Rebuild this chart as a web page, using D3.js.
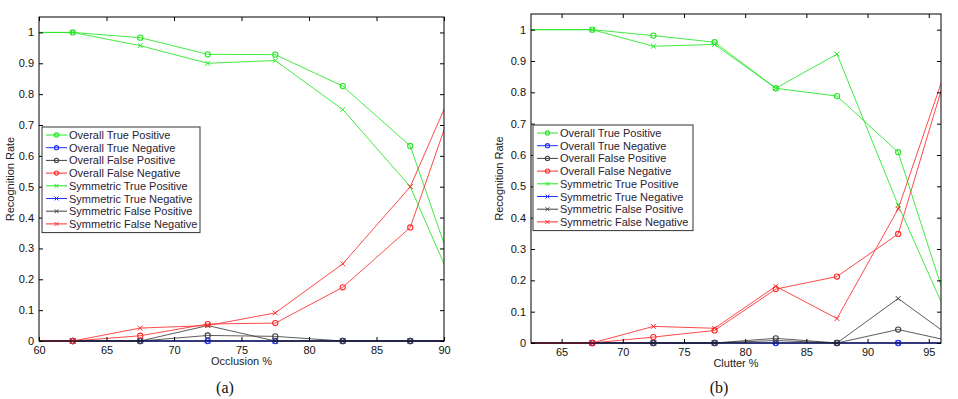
<!DOCTYPE html>
<html>
<head>
<meta charset="utf-8">
<script src="https://cdn.jsdelivr.net/npm/d3@7"></script>
<style>
  body { margin: 0; background: #fff; }
  svg { display: block; font-family: "Liberation Sans", Arial, sans-serif; }
</style>
</head>
<body>
<svg id="chart" width="958" height="399"></svg>
<script>
var seriesNames = ["Overall True Positive", "Overall True Negative", "Overall False Positive", "Overall False Negative",
                   "Symmetric True Positive", "Symmetric True Negative", "Symmetric False Positive", "Symmetric False Negative"];

// (a) occlusion
var occlusionX = [57.5, 62.5, 67.5, 72.5, 77.5, 82.5, 87.5, 92.5];
var occOverallTP = [1, 1, 0.983, 0.929, 0.928, 0.826, 0.632, 0];
var occOverallTN = [0, 0, 0, 0, 0, 0, 0, 0];
var occOverallFP = [0, 0, 0, 0.018, 0.015, 0, 0, 0];
var occOverallFN = [0, 0, 0.017, 0.055, 0.058, 0.174, 0.368, 1];
var occSymTP = [1, 1, 0.957, 0.9, 0.909, 0.75, 0.5, 0];
var occSymTN = [0, 0, 0, 0, 0, 0, 0, 0];
var occSymFP = [0, 0, 0, 0.05, 0, 0, 0, 0];
var occSymFN = [0, 0, 0.042, 0.05, 0.091, 0.25, 0.5, 1];

// (b) clutter
var clutterX = [62.5, 67.5, 72.5, 77.5, 82.5, 87.5, 92.5, 97.5];
var clutOverallTP = [1, 1, 0.981, 0.96, 0.813, 0.788, 0.609, 0];
var clutOverallTN = [0, 0, 0, 0, 0, 0, 0, 0];
var clutOverallFP = [0, 0, 0, 0, 0.015, 0, 0.043, 0];
var clutOverallFN = [0, 0, 0.019, 0.04, 0.172, 0.212, 0.348, 1];
var clutSymTP = [1, 1, 0.947, 0.953, 0.813, 0.922, 0.44, 0];
var clutSymTN = [0, 0, 0, 0, 0, 0, 0, 0];
var clutSymFP = [0, 0, 0, 0, 0.008, 0, 0.142, 0];
var clutSymFN = [0, 0, 0.053, 0.047, 0.181, 0.078, 0.428, 1];

var occTicks = [60, 65, 70, 75, 80, 85, 90];
var clutTicks = [65, 70, 75, 80, 85, 90, 95];
var rateTicks = [0, 0.1, 0.2, 0.3, 0.4, 0.5, 0.6, 0.7, 0.8, 0.9, 1];

var colors = ["#22e622", "#2030ff", "#404040", "#ff2a2a", "#22e622", "#2030ff", "#404040", "#ff2a2a"];
var markers = ["o", "o", "o", "o", "x", "x", "x", "x"];

var svg = d3.select("#chart");

function drawPanel(cfg) {
    var w = cfg.right - cfg.left, h = cfg.bottom - cfg.top;
    var g = svg.append("g").attr("transform", "translate(" + cfg.left + "," + cfg.top + ")");

    var x = d3.scaleLinear().domain(cfg.xDomain).range([0, w]);
    var y = d3.scaleLinear().domain([0, 1.05]).range([h, 0]);

    // clip only left/right so lines lying on y=0 stay whole
    g.append("clipPath").attr("id", cfg.id + "clip")
        .append("rect").attr("y", -5).attr("width", w).attr("height", h + 10);

    var plot = g.append("g").attr("clip-path", "url(#" + cfg.id + "clip)");
    var marks = g.append("g");
    var line = d3.line().x(function(d) { return x(d[0]); }).y(function(d) { return y(d[1]); });

    cfg.series.forEach(function(vals, i) {
        var pts = cfg.xs.map(function(xv, j) { return [xv, vals[j]]; });
        var sg = plot.append("g");
        sg.append("path").datum(pts)
            .attr("d", line)
            .attr("fill", "none")
            .attr("stroke", colors[i])
            .attr("stroke-opacity", 0.85)
            .attr("stroke-width", 1);
        // only markers that fall inside the axes
        var inside = pts.filter(function(d) { return d[0] > cfg.xDomain[0] && d[0] < cfg.xDomain[1]; });
        inside.forEach(function(d) {
            drawMarker(sg, markers[i], x(d[0]), y(d[1]), colors[i]);
        });
    });

    // axes, ticks pointing inward on all four sides
    g.append("g").attr("transform", "translate(0," + h + ")")
        .call(d3.axisBottom(x).tickValues(cfg.xTicks).tickSize(-4).tickPadding(5).tickFormat(d3.format("d")));
    g.append("g")
        .call(d3.axisTop(x).tickValues(cfg.xTicks).tickSize(-4).tickFormat(""));
    g.append("g")
        .call(d3.axisLeft(y).tickValues(rateTicks).tickSize(-4).tickPadding(5)
            .tickFormat(function(d) { return String(+d.toFixed(1)); }));
    g.append("g").attr("transform", "translate(" + w + ",0)")
        .call(d3.axisRight(y).tickValues(rateTicks).tickSize(-4).tickFormat(""));

    g.selectAll(".domain").remove();
    g.selectAll(".tick line").attr("stroke", "#000");
    g.selectAll(".tick text").attr("font-size", 11).attr("fill", "#111")
        .attr("font-family", "Liberation Sans, Arial, sans-serif");

    g.append("rect").attr("width", w).attr("height", h)
        .attr("fill", "none").attr("stroke", "#000").attr("stroke-width", 1);

    g.append("text")
        .attr("x", w / 2).attr("y", h + 24)
        .attr("text-anchor", "middle").attr("font-size", 11).attr("fill", "#222")
        .text(cfg.xLabel);

    g.append("text")
        .attr("transform", "translate(" + cfg.yLabelX + "," + (h / 2) + ") rotate(-90)")
        .attr("text-anchor", "middle").attr("font-size", 11).attr("fill", "#222")
        .text("Recognition Rate");

    svg.append("text")
        .attr("x", cfg.captionX).attr("y", 393)
        .attr("text-anchor", "middle")
        .style("font-family", "'Liberation Serif', 'Times New Roman', serif")
        .attr("font-size", 16).attr("fill", "#111")
        .text(cfg.caption);

    // legend
    var lg = g.append("g").attr("transform", "translate(" + cfg.legend[0] + "," + cfg.legend[1] + ")");
    var rowH = 12.7;
    lg.append("rect").attr("width", cfg.legendW).attr("height", seriesNames.length * rowH + 4)
        .attr("fill", "#fff").attr("stroke", "#333").attr("stroke-width", 1);
    seriesNames.forEach(function(name, i) {
        var yy = 8 + i * rowH;
        lg.append("line").attr("x1", 4).attr("x2", 25).attr("y1", yy).attr("y2", yy)
            .attr("stroke", colors[i]).attr("stroke-width", 1);
        drawMarker(lg, markers[i], 14.5, yy, colors[i], 0.8);
        lg.append("text").attr("x", 27).attr("y", yy + 4)
            .attr("font-size", 11).attr("fill", "#2a2233")
            .text(name);
    });
}

function drawMarker(sel, type, cx, cy, color, scale) {
    var s = scale || 1;
    if (type === "o") {
        sel.append("circle").attr("cx", cx).attr("cy", cy).attr("r", 2.6 * s)
            .attr("fill", "none").attr("stroke", color).attr("stroke-width", 1.1);
    } else {
        var r = 2.4 * s;
        sel.append("path")
            .attr("d", "M" + (cx - r) + "," + (cy - r) + "L" + (cx + r) + "," + (cy + r) +
                       "M" + (cx - r) + "," + (cy + r) + "L" + (cx + r) + "," + (cy - r))
            .attr("stroke", color).attr("stroke-width", 1);
    }
}

drawPanel({
    id: "a", left: 39, right: 444, top: 17, bottom: 341,
    xDomain: [60, 90], xTicks: occTicks, xs: occlusionX,
    series: [occOverallTP, occOverallTN, occOverallFP, occOverallFN, occSymTP, occSymTN, occSymFP, occSymFN],
    xLabel: "Occlusion %", yLabelX: -25, caption: "(a)", captionX: 225,
    legend: [3, 110], legendW: 158
});

drawPanel({
    id: "b", left: 531, right: 941, top: 14, bottom: 343,
    xDomain: [62.5, 96], xTicks: clutTicks, xs: clutterX,
    series: [clutOverallTP, clutOverallTN, clutOverallFP, clutOverallFN, clutSymTP, clutSymTN, clutSymFP, clutSymFN],
    xLabel: "Clutter %", yLabelX: -28, caption: "(b)", captionX: 719,
    legend: [2, 111], legendW: 160
});
</script>
</body>
</html>
